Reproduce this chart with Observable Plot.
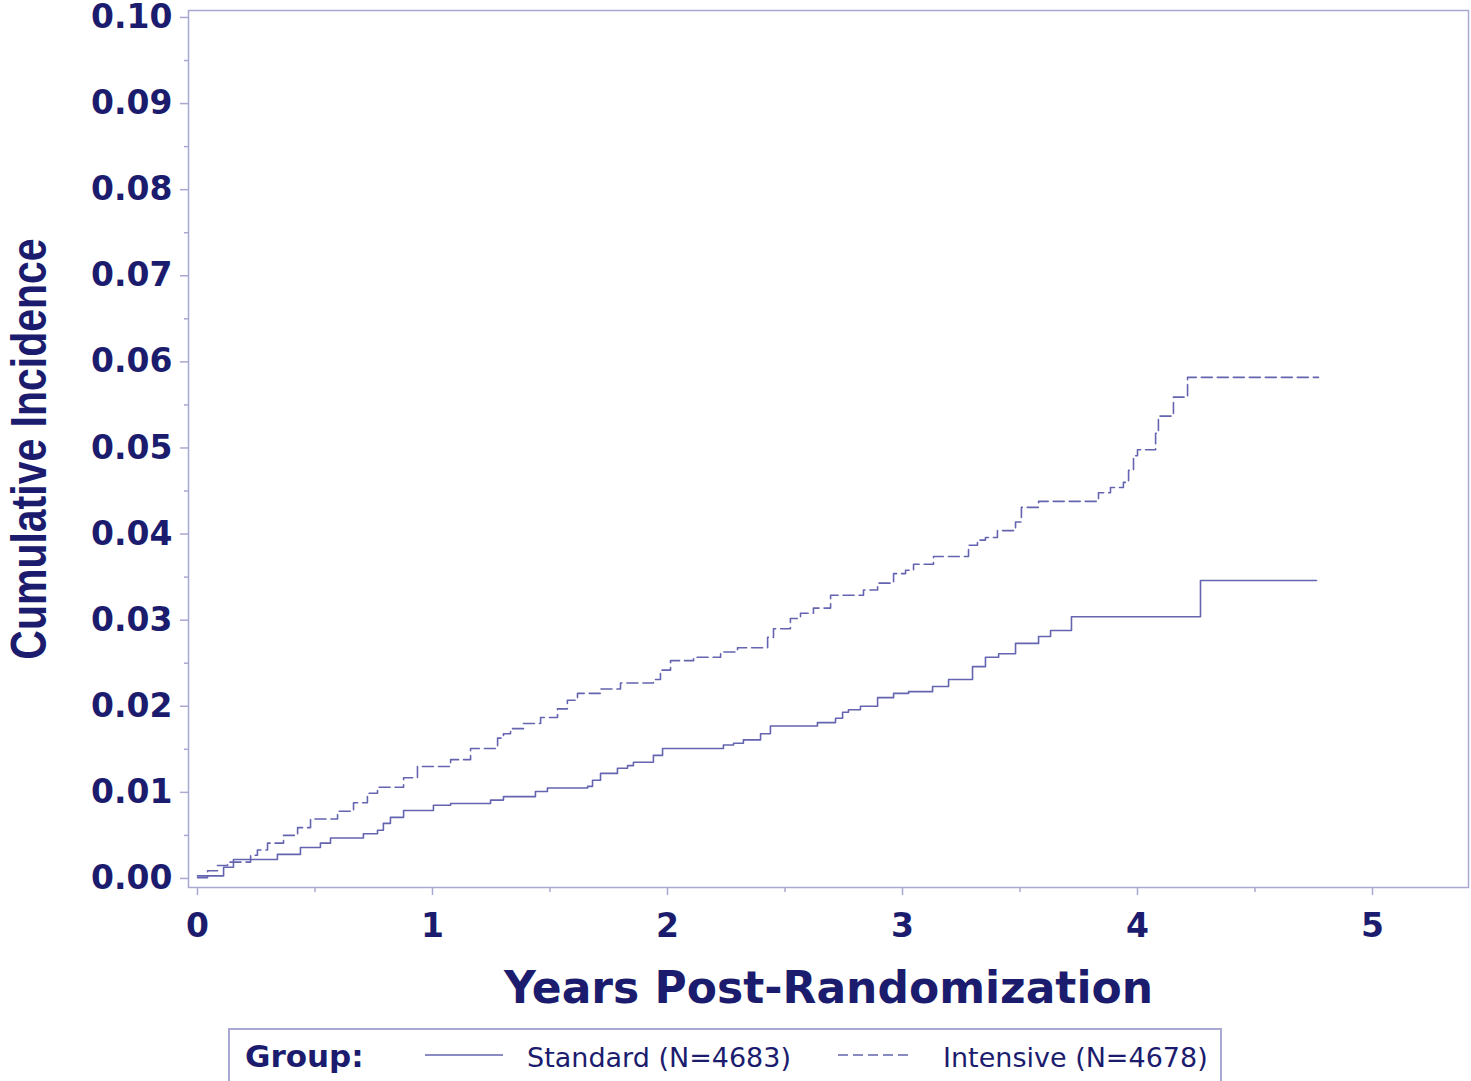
<!DOCTYPE html>
<html>
<head>
<meta charset="utf-8">
<script src="https://cdn.jsdelivr.net/npm/d3@7"></script>
<script src="https://cdn.jsdelivr.net/npm/@observablehq/plot@0.6"></script>
<style>
  html, body { margin: 0; padding: 0; background: #ffffff; }
  #wrap { position: relative; width: 1471px; height: 1081px; overflow: hidden; }
  #legend {
    position: absolute; left: 228px; top: 1028px; width: 994px; height: 70px;
    border: 2px solid #a8a8d2; box-sizing: border-box; background: #fff;
    font-family: "DejaVu Sans", sans-serif; color: #1c1c6e;
  }
  #legend span { position: absolute; white-space: nowrap; }
  #legend svg { position: absolute; }
</style>
</head>
<body>
<div id="wrap">
  <div id="chart"></div>
  <div id="legend"></div>
</div>
<script>
// ---- data ----
const stdTime = [0, 0.111, 0.153, 0.340, 0.438, 0.523, 0.566, 0.706, 0.766, 0.791, 0.821, 0.877, 1.004, 1.077, 1.247, 1.302, 1.438, 1.489, 1.660, 1.681, 1.715, 1.787, 1.830, 1.855, 1.940, 1.979, 2.238, 2.281, 2.323, 2.396, 2.438, 2.638, 2.715, 2.745, 2.770, 2.821, 2.894, 2.962, 3.026, 3.128, 3.196, 3.298, 3.353, 3.409, 3.481, 3.579, 3.630, 3.719, 4.268, 4.762];
const stdValue = [0.0003, 0.0013, 0.0022, 0.0028, 0.0036, 0.0041, 0.0047, 0.0052, 0.0056, 0.0064, 0.0071, 0.0079, 0.0085, 0.0087, 0.0091, 0.0095, 0.0101, 0.0105, 0.0107, 0.0114, 0.0122, 0.0128, 0.0131, 0.0135, 0.0143, 0.0151, 0.0155, 0.0157, 0.0161, 0.0168, 0.0177, 0.0181, 0.0186, 0.0193, 0.0196, 0.0200, 0.0210, 0.0215, 0.0217, 0.0223, 0.0231, 0.0246, 0.0257, 0.0261, 0.0273, 0.0281, 0.0288, 0.0304, 0.0346, 0.0346];
const intTime = [0, 0.043, 0.085, 0.128, 0.226, 0.255, 0.298, 0.366, 0.426, 0.481, 0.596, 0.664, 0.723, 0.766, 0.877, 0.936, 1.077, 1.162, 1.277, 1.302, 1.332, 1.387, 1.460, 1.532, 1.574, 1.617, 1.715, 1.800, 1.940, 1.970, 2.013, 2.111, 2.226, 2.298, 2.426, 2.451, 2.523, 2.566, 2.621, 2.694, 2.834, 2.894, 2.962, 3.013, 3.047, 3.132, 3.281, 3.319, 3.353, 3.404, 3.481, 3.506, 3.579, 3.834, 3.885, 3.940, 3.962, 3.983, 4.000, 4.077, 4.089, 4.153, 4.213, 4.770];
const intValue = [0.0001, 0.0009, 0.0015, 0.0019, 0.0027, 0.0033, 0.0041, 0.0050, 0.0059, 0.0069, 0.0078, 0.0088, 0.0099, 0.0106, 0.0117, 0.0130, 0.0138, 0.0151, 0.0163, 0.0168, 0.0174, 0.0180, 0.0187, 0.0197, 0.0207, 0.0215, 0.0220, 0.0227, 0.0231, 0.0242, 0.0253, 0.0257, 0.0263, 0.0268, 0.0280, 0.0290, 0.0302, 0.0308, 0.0314, 0.0329, 0.0335, 0.0343, 0.0354, 0.0358, 0.0365, 0.0374, 0.0387, 0.0393, 0.0396, 0.0404, 0.0414, 0.0431, 0.0438, 0.0448, 0.0454, 0.0460, 0.0474, 0.0491, 0.0498, 0.0517, 0.0537, 0.0559, 0.0582, 0.0582];

const groupNames = ["Standard (N=4683)", "Intensive (N=4678)"];
const yTicks = [0, 0.01, 0.02, 0.03, 0.04, 0.05, 0.06, 0.07, 0.08, 0.09, 0.10];
const yMinorTicks = [0.005, 0.015, 0.025, 0.035, 0.045, 0.055, 0.065, 0.075, 0.085, 0.095];
const xTicks = [0, 1, 2, 3, 4, 5];
const xMinorTicks = [0.5, 1.5, 2.5, 3.5, 4.5];
const xTitle = "Years Post-Randomization";
const yTitle = "Cumulative Incidence";
const legendTitle = "Group:";

// ---- styles ----
const navy = "#1c1c6e";
const frameColor = "#a8a8d2";
const lineColor = "#6464b0";

const stdRows = stdTime.map((t, i) => ({t, v: stdValue[i]}));
const intRows = intTime.map((t, i) => ({t, v: intValue[i]}));

const chart = Plot.plot({
  width: 1471,
  height: 1020,
  marginTop: 10,
  marginRight: 3,
  marginBottom: 133,
  marginLeft: 188,
  x: {domain: [-0.0383, 5.4085]},
  y: {domain: [-0.00105, 0.10081]},
  style: {fontFamily: "DejaVu Sans, sans-serif", background: "#ffffff", color: navy, overflow: "visible"},
  marks: [
    Plot.frame({stroke: frameColor, strokeWidth: 1.5}),
    Plot.axisY(yTicks, {tickSize: 8, tickPadding: 8, tickFormat: d3.format(".2f"), fontSize: 33, fontWeight: "bold", fill: navy, stroke: frameColor, strokeWidth: 1.5, label: null}),
    Plot.axisY(yMinorTicks, {tickSize: 4, tickFormat: () => "", stroke: frameColor, strokeWidth: 1.5, label: null}),
    Plot.axisX(xTicks, {tickSize: 8, tickPadding: 18, tickFormat: d3.format("d"), fontSize: 33, fontWeight: "bold", fill: navy, stroke: frameColor, strokeWidth: 1.5, label: null}),
    Plot.axisX(xMinorTicks, {tickSize: 5, tickFormat: () => "", stroke: frameColor, strokeWidth: 1.5, label: null}),
    Plot.line(stdRows, {x: "t", y: "v", curve: "step-after", stroke: lineColor, strokeWidth: 1.6}),
    Plot.line(intRows, {x: "t", y: "v", curve: "step-after", stroke: lineColor, strokeWidth: 1.6, strokeDasharray: "11,5"}),
    Plot.text([xTitle], {frameAnchor: "bottom", dy: 84, lineAnchor: "top", fontSize: 44, fontWeight: "bold", fill: navy, text: d => d}),
    Plot.text([yTitle], {frameAnchor: "left", dx: -158, rotate: -90, textAnchor: "middle", lineAnchor: "middle", fontSize: 41, fontWeight: "bold", fontFamily: "Liberation Sans, Arial, sans-serif", fill: navy, text: d => d, className: "ytitle"})
  ]
});
document.getElementById("chart").appendChild(chart);

// thicken rotated y title glyphs slightly (reference glyphs appear stretched horizontally)
chart.querySelectorAll(".ytitle text").forEach(t => {
  const tr = t.getAttribute("transform") || "";
  t.setAttribute("transform", tr + " scale(1,1.2)");
});

// ---- legend ----
const legend = document.getElementById("legend");
legend.innerHTML = `
  <span style="left:15px; top:8px; font-size:31px; font-weight:bold;">${legendTitle}</span>
  <svg style="left:195px; top:22px;" width="80" height="6"><line x1="0" y1="3" x2="78" y2="3" stroke="${lineColor}" stroke-width="1.5"/></svg>
  <span style="left:297px; top:12px; font-size:27px;">${groupNames[0]}</span>
  <svg style="left:608px; top:22px;" width="80" height="6"><line x1="0" y1="3" x2="74" y2="3" stroke="${lineColor}" stroke-width="1.5" stroke-dasharray="10,5"/></svg>
  <span style="left:713px; top:12px; font-size:27px;">${groupNames[1]}</span>
`;
</script>
</body>
</html>
